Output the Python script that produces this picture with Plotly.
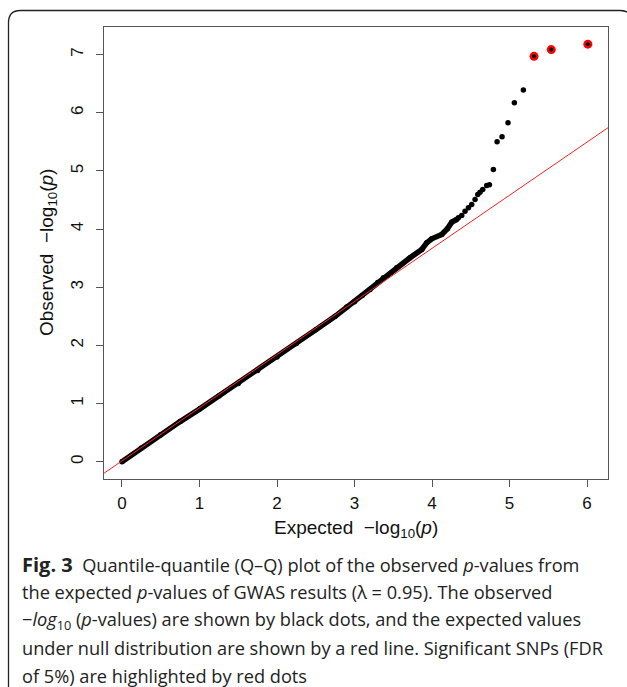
import plotly.graph_objects as go

# ---- data ----
# dense part of the QQ curve (expected, observed) -log10(p)
exp_band = [0.0, 0.25, 0.5, 0.75, 1.0, 1.25, 1.5, 1.75, 2.0, 2.25, 2.5, 2.75, 2.9, 3.0,
            3.1, 3.2, 3.3, 3.372, 3.544, 3.716, 3.867, 3.931, 3.996, 4.125, 4.198, 4.254, 4.318]
obs_band = [0.0, 0.235, 0.465, 0.69, 0.905, 1.13, 1.345, 1.57, 1.80, 2.035, 2.27, 2.50, 2.66, 2.75,
            2.86, 2.96, 3.08, 3.162, 3.334, 3.506, 3.649, 3.764, 3.833, 3.907, 4.005, 4.119, 4.165]
# sparse tail points
exp_tail = [4.34, 4.383, 4.426, 4.47, 4.512, 4.555, 4.59, 4.619, 4.654, 4.705, 4.74,
            4.791, 4.839, 4.903, 4.98, 5.062, 5.178]
obs_tail = [4.194, 4.234, 4.308, 4.366, 4.423, 4.51, 4.596, 4.635, 4.68, 4.75, 4.763,
            5.026, 5.503, 5.589, 5.83, 6.174, 6.39]
# significant SNPs (FDR 5%)
exp_sig = [5.316, 5.538, 6.01]
obs_sig = [6.97, 7.086, 7.18]
# red reference line end points (as drawn)
line_x = [-0.24, 6.27]
line_y = [-0.205, 5.743]

x_ticks = [0, 1, 2, 3, 4, 5, 6]
y_ticks = [0, 1, 2, 3, 4, 5, 6, 7]

caption_lines = [
    "<span style='font-size:20px'><b>Fig. 3</b></span>  Quantile-quantile (Q–Q) plot of the observed <i>p</i>-values from",
    "the expected <i>p</i>-values of GWAS results (λ = 0.95). The observed",
    "−<i>log</i><sub>10</sub> (<i>p</i>-values) are shown by black dots, and the expected values",
    "under null distribution are shown by a red line. Significant SNPs (FDR",
    "of 5%) are highlighted by red dots",
]

# ---- layout geometry (pixels) ----
W, H = 627, 687
L, R, T, B = 104, 608, 27, 479
PW, PH = R - L, B - T


def px(x):
    return (x - L) / PW


def py(y):
    return (B - y) / PH


fig = go.Figure()
fig.add_trace(go.Scatter(x=exp_band, y=obs_band, mode="lines+markers",
                         line=dict(color="black", width=5.5),
                         marker=dict(color="black", size=5.5), hoverinfo="skip"))
fig.add_trace(go.Scatter(x=exp_tail, y=obs_tail, mode="markers",
                         marker=dict(color="black", size=5.5), hoverinfo="skip"))
fig.add_trace(go.Scatter(x=line_x, y=line_y, mode="lines",
                         line=dict(color="#ff2020", width=1), hoverinfo="skip"))
fig.add_trace(go.Scatter(x=exp_sig, y=obs_sig, mode="markers",
                         marker=dict(color="#ff0000", size=9), hoverinfo="skip"))
fig.add_trace(go.Scatter(x=exp_sig, y=obs_sig, mode="markers",
                         marker=dict(color="black", size=4), hoverinfo="skip"))

axis_common = dict(showgrid=False, zeroline=False, showline=True, mirror=True,
                   linecolor="#555", linewidth=1, ticks="outside", ticklen=7,
                   tickcolor="#555", tickwidth=1,
                   tickfont=dict(family="Liberation Sans", size=17, color="#111"))
fig.update_xaxes(range=[-0.232, 6.27], tickvals=x_ticks, ticklabelstandoff=2, **axis_common)
fig.update_yaxes(range=[-0.297, 7.475], tickvals=y_ticks, tickangle=-90,
                 ticklabelstandoff=6, **axis_common)

ann = []
ann.append(dict(x=px(356), y=py(529), xref="paper", yref="paper", showarrow=False,
                text="Expected  −log<sub>10</sub>(<i>p</i>)",
                font=dict(family="Liberation Sans", size=19, color="#111"),
                xanchor="center", yanchor="middle"))
ann.append(dict(x=px(48), y=py(253), xref="paper", yref="paper", showarrow=False,
                text="Observed  −log<sub>10</sub>(<i>p</i>)", textangle=-90,
                font=dict(family="Liberation Sans", size=19, color="#111"),
                xanchor="center", yanchor="middle"))
for i, t in enumerate(caption_lines):
    ann.append(dict(x=px(20), y=py(564 + 28 * i), xref="paper", yref="paper",
                    showarrow=False, text=t, xanchor="left", yanchor="middle",
                    font=dict(family="Open Sans", size=18.2, color="#222")))

# rounded outer border
r = 12
x0, y0, x1, y1 = 8.5, 10.5, 632, 700
path = (f"M {px(x0)},{py(y1)} L {px(x0)},{py(y0 + r)} "
        f"Q {px(x0)},{py(y0)} {px(x0 + r)},{py(y0)} "
        f"L {px(x1 - r)},{py(y0)} Q {px(x1)},{py(y0)} {px(x1)},{py(y0 + r)} "
        f"L {px(x1)},{py(y1)}")
shapes = [dict(type="path", path=path, xref="paper", yref="paper",
               line=dict(color="#222", width=1.3))]

fig.update_layout(width=W, height=H, margin=dict(l=L, r=W - R, t=T, b=H - B),
                  paper_bgcolor="white", plot_bgcolor="white", showlegend=False,
                  annotations=ann, shapes=shapes)

fig.write_html("out.html")
